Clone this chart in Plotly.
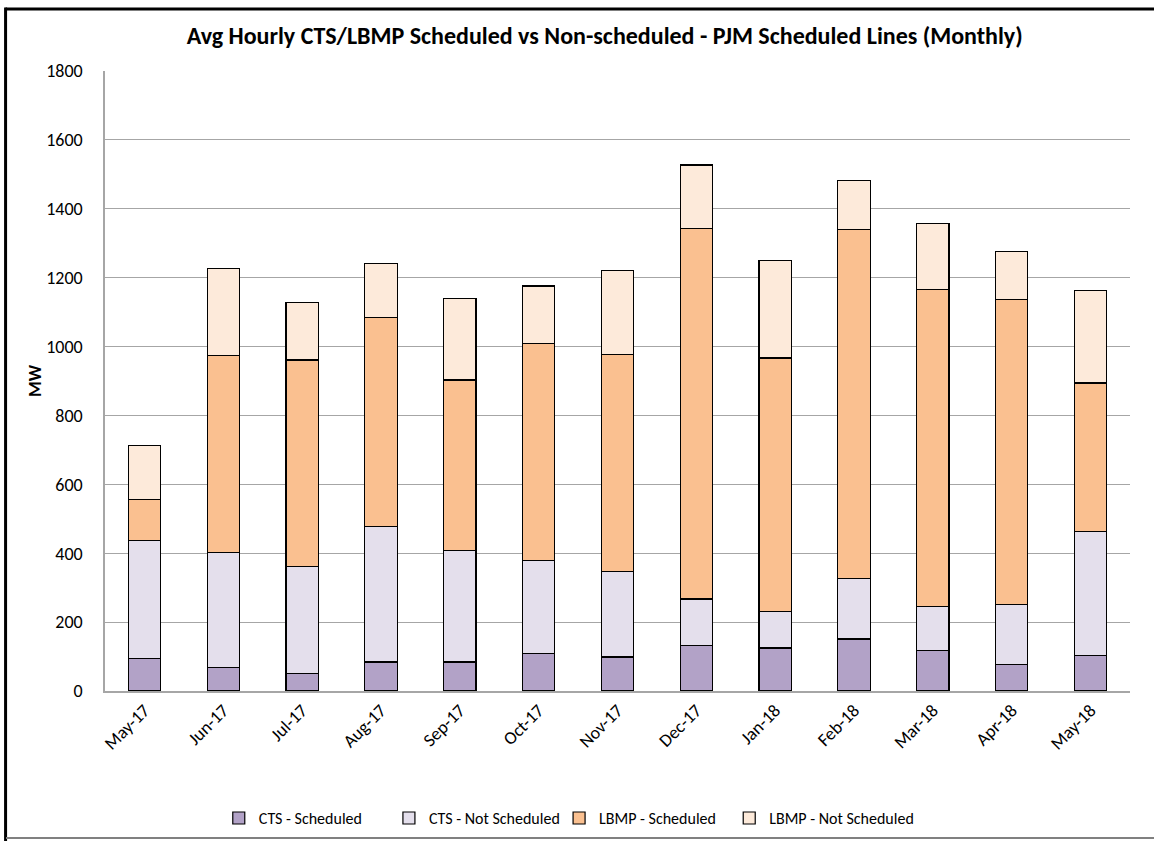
import plotly.graph_objects as go

months = ["May-17", "Jun-17", "Jul-17", "Aug-17", "Sep-17", "Oct-17", "Nov-17",
          "Dec-17", "Jan-18", "Feb-18", "Mar-18", "Apr-18", "May-18"]

cts_sched = [94, 68, 50, 84, 84, 109, 99, 132, 125, 151, 117, 77, 103]
cts_not = [343, 333, 311, 394, 324, 270, 247, 135, 106, 176, 129, 173, 361]
lbmp_sched = [118, 572, 600, 606, 495, 631, 631, 1076, 736, 1013, 920, 887, 430]
lbmp_not = [158, 254, 167, 158, 236, 166, 243, 184, 284, 143, 192, 140, 269]

font_fam = "Carlito, Lato, 'Open Sans', sans-serif"

series = [
    ("CTS - Scheduled", cts_sched, "#B2A2C7"),
    ("CTS - Not Scheduled", cts_not, "#E4DFEC"),
    ("LBMP - Scheduled", lbmp_sched, "#FAC090"),
    ("LBMP - Not Scheduled", lbmp_not, "#FDEADA"),
]

# one legend per series so the entries sit at even spacing like the Excel legend
legend_ids = ["legend", "legend2", "legend3", "legend4"]
legend_x = [0.111, 0.277, 0.443, 0.609]

fig = go.Figure()
for (name, vals, col), lid in zip(series, legend_ids):
    fig.add_trace(go.Bar(x=months, y=vals, name=name, legend=lid,
                         marker=dict(color=col, line=dict(color="black", width=1.2))))

legend_style = dict(orientation="h", xanchor="left", y=-0.205, yanchor="middle",
                    font=dict(size=16), bgcolor="rgba(0,0,0,0)")

fig.update_layout(
    width=1154, height=842,
    barmode="stack", bargap=0.59,
    plot_bgcolor="white", paper_bgcolor="white",
    margin=dict(l=105, r=24, t=71, b=151, autoexpand=False),
    font=dict(family=font_fam, color="black", size=17),
    title=dict(text="<b>Avg Hourly CTS/LBMP Scheduled vs Non-scheduled - PJM Scheduled Lines (Monthly)</b>",
               x=0.524, xanchor="center", y=0.958, yanchor="middle",
               font=dict(size=24, family=font_fam)),
    legend=dict(x=legend_x[0], **legend_style),
    legend2=dict(x=legend_x[1], **legend_style),
    legend3=dict(x=legend_x[2], **legend_style),
    legend4=dict(x=legend_x[3], **legend_style),
    showlegend=True,
)

fig.update_yaxes(range=[0, 1800], dtick=200, showgrid=True, gridcolor="#A6A6A6", gridwidth=1,
                 showline=True, linecolor="#A6A6A6", linewidth=1.5, zeroline=False,
                 ticks="", ticklabelstandoff=17, tickfont=dict(size=18),
                 title=dict(text="<b>MW</b>", font=dict(size=18), standoff=0))
fig.update_xaxes(showline=True, linecolor="#A6A6A6", linewidth=1.5, tickangle=-45,
                 ticks="", tickfont=dict(size=18))

# chart border (top and left heavy, bottom thin)
fig.add_shape(type="line", xref="paper", yref="paper", x0=-0.097, x1=1.0999, y0=1.1, y1=1.1,
              line=dict(color="black", width=3), layer="above")
fig.add_shape(type="line", xref="paper", yref="paper", x0=-0.097, x1=-0.097, y0=1.1024, y1=-0.242,
              line=dict(color="black", width=3))
fig.add_shape(type="line", xref="paper", yref="paper", x0=-0.0966, x1=1.0999, y0=-0.2371, y1=-0.2371,
              line=dict(color="#808080", width=2))

# drop the browser's default body margin so the figure sits at the page corner
fig.write_html("out.html", config={"displayModeBar": False},
               post_script="document.body.style.margin='0';")
